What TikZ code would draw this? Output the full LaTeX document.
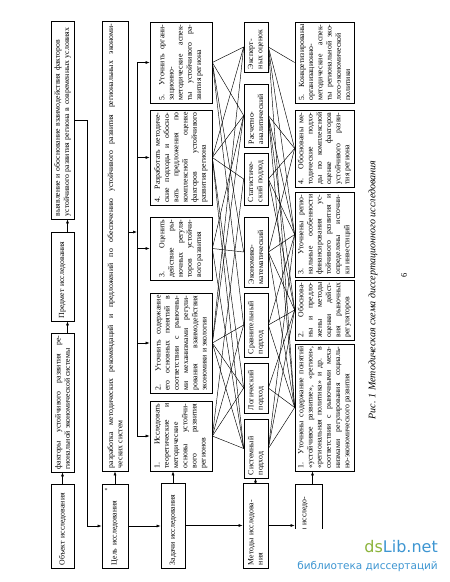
\documentclass[tikz,border=0pt]{standalone}
\usepackage{fontspec}
\setmainfont{Liberation Serif}
\newfontfamily\wmfont{DejaVu Sans}
\usetikzlibrary{arrows.meta}
\hyphenpenalty=10000
\exhyphenpenalty=10000
\hbadness=10000
\definecolor{wmgreen}{HTML}{8CB43C}
\definecolor{wmblue}{HTML}{3E96D2}
\begin{document}
\begin{tikzpicture}[x=1pt,y=-1pt,
  bx/.style={draw=black, line width=0.7pt, rotate=90, inner sep=2pt,
    font=\fontsize{7.8}{9.2}\selectfont},
  jb/.style={bx, align=justify},
  lb/.style={bx, align=left},
  ln/.style={line width=0.45pt, black},
  arr/.style={line width=0.6pt, black, -{Latex[length=4pt,width=3pt]}}]
\fill[white] (0,0) rectangle (450,582);
\useasboundingbox (0,0) rectangle (450,582);

% column 1
\node[lb, minimum width=198pt, minimum height=23pt, text width=192pt] (vyyav) at (62.5,120)
  {выявление и обоснование взаимодействия факторов\\устойчивого развития региона в современных условиях};
\node[lb, minimum width=89pt, minimum height=23pt, text width=83pt] (predmet) at (62.5,276.5)
  {Предмет исследования};
\node[jb, minimum width=139pt, minimum height=23pt, text width=134pt] (fact) at (62.5,402.5)
  {факторы устойчивого развития ре-\linebreak гиональной экономической системы};
\node[lb, minimum width=84pt, minimum height=23pt, text width=78pt] (obj) at (62.5,526)
  {Объект исследования};

% column 2
\node[jb, minimum width=450pt, minimum height=26pt, text width=444pt] (razr) at (115,246)
  {разработка методических рекомендаций и предложений по обеспечению устойчивого развития региональных экономи-\linebreak ческих систем};
\node[lb, minimum width=84pt, minimum height=26pt, text width=78pt] (cel) at (115,526)
  {Цель исследования};
\node[font=\fontsize{6}{6}\selectfont, inner sep=0pt] (star) at (106,491) {*};

% tasks
\node[jb, minimum width=81pt, minimum height=62pt, text width=76pt] (t5) at (181,62.5)
  {5. Уточнить органи-\linebreak зационно-\linebreak методические аспек-\linebreak ты устойчивого ра-\linebreak звития региона};
\node[jb, minimum width=95pt, minimum height=62pt, text width=90pt] (t4) at (181,157.5)
  {4. Разработать методиче-\linebreak ские подходы и обосно-\linebreak вать предложения по\linebreak комплексной оценке\linebreak факторов устойчивого\linebreak развития региона};
\node[jb, minimum width=63pt, minimum height=62pt, text width=58pt] (t3) at (181,248.5)
  {3. Оценить\linebreak действие ры-\linebreak ночных регуля-\linebreak торов устойчи-\linebreak вого развития};
\node[jb, minimum width=100pt, minimum height=62pt, text width=95pt] (t2) at (181,343)
  {2. Уточнить содержание\linebreak его основных понятий в\linebreak соответствии с рыночны-\linebreak ми механизмами регули-\linebreak рования взаимодействия\linebreak экономики и экологии};
\node[jb, minimum width=70pt, minimum height=62pt, text width=65pt] (t1) at (181,436)
  {1. Исследовать\linebreak теоретические и\linebreak методические\linebreak основы устойчи-\linebreak вого развития\linebreak регионов};
\node[lb, minimum width=85pt, minimum height=24pt, text width=79pt] (zad) at (173,525.5)
  {Задачи исследования};

% methods
\node[lb, minimum width=50pt, minimum height=24pt, text width=44pt] (m7) at (256,47) {Эксперт-\\ных оценок};
\node[lb, minimum width=63pt, minimum height=24pt, text width=57pt] (m6) at (256,115.5) {Расчетно-\\аналитический};
\node[lb, minimum width=52pt, minimum height=24pt, text width=46pt] (m5) at (256,179) {Статистиче-\\ский подход};
\node[lb, minimum width=70pt, minimum height=24pt, text width=64pt] (m4) at (256,252) {Экономико-\\математический};
\node[lb, minimum width=64pt, minimum height=24pt, text width=58pt] (m3) at (256,325) {Сравнительный\\подход};
\node[lb, minimum width=50pt, minimum height=24pt, text width=44pt] (m2) at (256,388) {Логический\\подход};
\node[lb, minimum width=59pt, minimum height=24pt, text width=53pt] (m1) at (256,448.5) {Системный\\подход};
\node[lb, minimum width=85pt, minimum height=25pt, text width=79pt] (met) at (255.5,525.5) {Методы исследова-\\ния};

% results
\node[jb, minimum width=81pt, minimum height=59pt, text width=76pt] (r5) at (324.5,62.5)
  {5. Конкретизированы\linebreak организационно-\linebreak методические аспек-\linebreak ты региональной эко-\linebreak лого-экономической\linebreak политики};
\node[jb, minimum width=77pt, minimum height=59pt, text width=72pt] (r4) at (324.5,148.5)
  {4. Обоснованы ме-\linebreak тодические подхо-\linebreak ды по комплексной\linebreak оценке факторов\linebreak устойчивого разви-\linebreak тия региона};
\node[jb, minimum width=85pt, minimum height=59pt, text width=80pt] (r3) at (324.5,234.5)
  {3. Уточнены регио-\linebreak нальные особенности\linebreak финансирования ус-\linebreak тойчивого развития и\linebreak определены источни-\linebreak ки инвестиций};
\node[jb, minimum width=60pt, minimum height=59pt, text width=55pt] (r2) at (324.5,310)
  {2. Обоснова-\linebreak ны и предло-\linebreak жены методы\linebreak оценки дейст-\linebreak вия рыночных\linebreak регуляторов};
\node[jb, minimum width=127pt, minimum height=59pt, text width=122pt] (r1) at (324.5,407.5)
  {1. Уточнены содержание понятий\linebreak «устойчивое развитие», «регион»,\linebreak «региональная политика» и др. в\linebreak соответствии с рыночными меха-\linebreak низмами регулирования социаль-\linebreak но-экономического развития};
\node[lb, minimum width=84pt, minimum height=27pt, text width=78pt] (res) at (308.5,526) {Результаты исследо-\\вания};

% arrows, left part
\draw[arr] (obj.east) -- (obj.east |- fact.west);
\draw[arr] ([xshift=5pt]fact.east) -- ([xshift=5pt]predmet.west);
\draw[arr] ([xshift=5pt]predmet.east) -- ([xshift=5pt]vyyav.west);
\draw[arr] (vyyav.south) -- ++(12.5,0) |- (cel.north);
\draw[arr] (cel.east) -- (cel.east |- razr.west);
\coordinate (bt) at (137,62.5);
\coordinate (bb) at (137,436);
\draw[ln, line width=0.6pt] (bt) -- (bb);
\draw[arr] ([yshift=14pt]razr.south) -- ([yshift=14pt]razr.south -| bt);
\foreach \i in {1,...,5} \draw[arr] (t\i.north -| bt) -- (t\i.north);
\draw[arr] (cel.south) -- (cel.south -| zad.north);
\draw[arr] (zad.east) -- (zad.east |- t1.west);
\draw[arr] (zad.south) -- (zad.south -| met.north);
\draw[arr] (met.east) -- (met.east |- m1.west);
\draw[arr] (met.south) -- (met.south -| res.north);
\draw[arr] ([xshift=4pt]res.east) -- ([xshift=4pt]res.east |- r1.west);

% tasks -> methods
\foreach \a/\b in {1/1,1/2,1/3,1/5, 2/1,2/2,2/3,2/6,2/7, 3/4,3/1,3/6, 4/2,4/5,4/6,4/7,4/1, 5/7,5/6,5/3,5/4}
  \draw[ln] (t\a.south) -- (m\b.north);
% methods -> results
\foreach \a/\b in {7/5,7/4,7/3,7/1, 6/4,6/3,6/2,6/1, 5/4,5/2,5/3, 4/3,4/4,4/1,4/2, 3/2,3/1,3/3, 2/1,2/2, 1/1,1/2,1/3}
  \draw[ln] (m\a.south) -- (r\b.north);

% caption and page number
\node[rotate=90, font=\fontsize{10}{12}\selectfont\itshape, inner sep=0pt] (cap) at (373,290)
  {Рис. 1 Методическая схема диссертационного исследования};
\node[rotate=90, font=\fontsize{8.5}{10}\selectfont, inner sep=0pt] (pnum) at (404,275) {6};

% watermark
\fill[white] (286,529) rectangle (450,582);
\node[font=\wmfont\fontsize{16}{18}\selectfont, inner sep=0pt, anchor=base east] (wm1) at (438,552)
  {\textcolor{wmgreen}{ds}\textcolor{wmblue}{Lib.net}};
\node[font=\wmfont\fontsize{10.5}{12}\selectfont, inner sep=0pt, anchor=base east, text=wmblue] (wm2) at (438,569)
  {библиотека диссертаций};
\end{tikzpicture}
\end{document}
